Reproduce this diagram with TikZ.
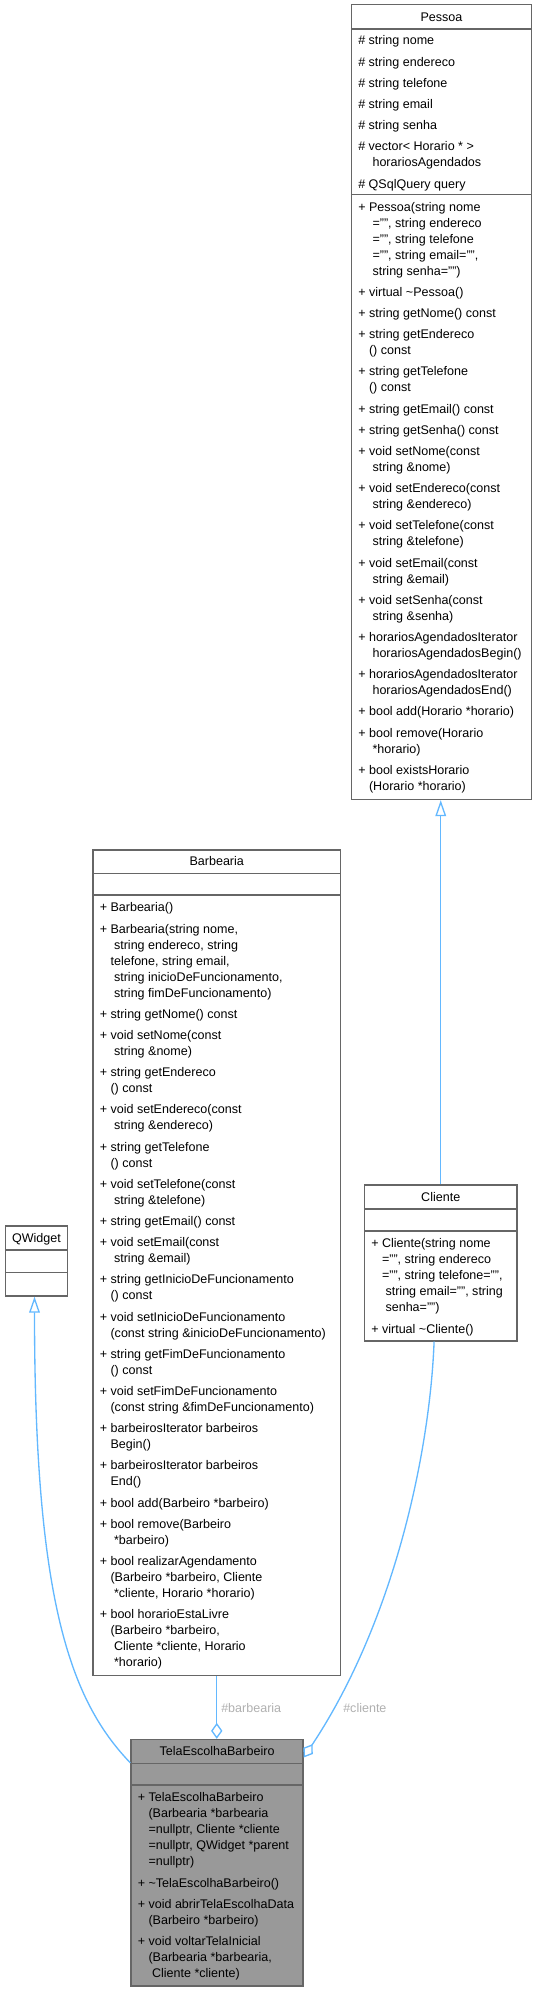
\documentclass[tikz,border=0pt]{standalone}
\usepackage{fontspec}
\setmainfont{Liberation Sans}
\usetikzlibrary{arrows.meta,fit}
\definecolor{edgeblue}{HTML}{63B8FF}
\definecolor{boxgray}{HTML}{666666}
\definecolor{focusfill}{HTML}{999999}
\definecolor{labelgray}{HTML}{B0B0B0}
\newcommand\fs{\fontsize{9.4pt}{12pt}\selectfont}
\newcommand\ci{\leavevmode\hphantom{+ }}
\newcommand\cx{\leavevmode\hphantom{+ }\ }
\tikzset{
  box/.style={draw=boxgray, line width=1pt, fill=white, inner sep=0pt},
  focus/.style={box, fill=focusfill},
  sep/.style={draw=boxgray, line width=1pt},
  txt/.style={anchor=north west, inner sep=0pt, align=left, font=\fs},
  hdr/.style={anchor=base, inner sep=0pt, font=\fs},
  lbl/.style={anchor=base west, inner sep=0pt, font=\fs, text=labelgray},
  link/.style={draw=edgeblue, line width=1pt},
  inh/.style={link, -{Triangle[open,length=12pt,width=8pt]}},
  agg/.style={link, -{Diamond[open,length=12pt,width=8.5pt]}},
}
\begin{document}
\begin{tikzpicture}[x=0.75pt, y=-0.75pt]
\useasboundingbox (0,0) rectangle (537,1991);

% ---------------- boxes ----------------
\node[box, fit={(351.5,4.5) (531.5,799.5)}] (pessoa) {};
\node[box, fit={(93,850) (340.5,1675.5)}] (barbearia) {};
\node[box, fit={(5.5,1226) (67.5,1296)}] (qwidget) {};
\node[box, fit={(364.5,1185) (517,1341)}] (cliente) {};
\node[focus, fit={(131,1739.5) (303,1986)}] (tela) {};

% separators
\draw[sep] (pessoa.west |- 0,29) -- (pessoa.east |- 0,29);
\draw[sep] (pessoa.west |- 0,194.3) -- (pessoa.east |- 0,194.3);
\draw[sep] (barbearia.west |- 0,873.5) -- (barbearia.east |- 0,873.5);
\draw[sep] (barbearia.west |- 0,895) -- (barbearia.east |- 0,895);
\draw[sep] (qwidget.west |- 0,1250) -- (qwidget.east |- 0,1250);
\draw[sep] (qwidget.west |- 0,1272.5) -- (qwidget.east |- 0,1272.5);
\draw[sep] (cliente.west |- 0,1209) -- (cliente.east |- 0,1209);
\draw[sep] (cliente.west |- 0,1231) -- (cliente.east |- 0,1231);
\draw[sep] (tela.west |- 0,1763.5) -- (tela.east |- 0,1763.5);
\draw[sep] (tela.west |- 0,1785) -- (tela.east |- 0,1785);

% headers
\node[hdr] (pessoaH) at (441.5,21.4) {Pessoa};
\node[hdr] (barbeariaH) at (216.75,865.9) {Barbearia};
\node[hdr] (qwidgetH) at (36.5,1242.4) {QWidget};
\node[hdr] (clienteH) at (440.75,1201.4) {Cliente};
\node[hdr] (telaH) at (217,1755.9) {TelaEscolhaBarbeiro};

% Pessoa attributes
\node[txt] (pessoaA) at (358,33.5) {\strut\# string nome\\[3.9pt]
\# string endereco\\[3.9pt]
\# string telefone\\[3.9pt]
\# string email\\[3.9pt]
\# string senha\\[3.9pt]
\# vector< Horario * >\\
\cx horariosAgendados\\[3.9pt]
\# QSqlQuery query};

% Pessoa methods
\node[txt] (pessoaM) at (358,199.7) {\strut+ Pessoa(string nome\\
\cx ="", string endereco\\
\cx ="", string telefone\\
\cx ="", string email="",\\
\cx string senha="")\\[3.9pt]
+ virtual \textasciitilde Pessoa()\\[3.9pt]
+ string getNome() const\\[3.9pt]
+ string getEndereco\\
\ci () const\\[3.9pt]
+ string getTelefone\\
\ci () const\\[3.9pt]
+ string getEmail() const\\[3.9pt]
+ string getSenha() const\\[3.9pt]
+ void setNome(const\\
\cx string \&nome)\\[3.9pt]
+ void setEndereco(const\\
\cx string \&endereco)\\[3.9pt]
+ void setTelefone(const\\
\cx string \&telefone)\\[3.9pt]
+ void setEmail(const\\
\cx string \&email)\\[3.9pt]
+ void setSenha(const\\
\cx string \&senha)\\[3.9pt]
+ horariosAgendadosIterator\\
\cx horariosAgendadosBegin()\\[3.9pt]
+ horariosAgendadosIterator\\
\cx horariosAgendadosEnd()\\[3.9pt]
+ bool add(Horario *horario)\\[3.9pt]
+ bool remove(Horario\\
\cx *horario)\\[3.9pt]
+ bool existsHorario\\
\ci (Horario *horario)};

% Barbearia methods
\node[txt] (barbeariaM) at (99.5,900.4) {\strut+ Barbearia()\\[3.9pt]
+ Barbearia(string nome,\\
\cx string endereco, string\\
\ci telefone, string email,\\
\cx string inicioDeFuncionamento,\\
\cx string fimDeFuncionamento)\\[3.9pt]
+ string getNome() const\\[3.9pt]
+ void setNome(const\\
\cx string \&nome)\\[3.9pt]
+ string getEndereco\\
\ci () const\\[3.9pt]
+ void setEndereco(const\\
\cx string \&endereco)\\[3.9pt]
+ string getTelefone\\
\ci () const\\[3.9pt]
+ void setTelefone(const\\
\cx string \&telefone)\\[3.9pt]
+ string getEmail() const\\[3.9pt]
+ void setEmail(const\\
\cx string \&email)\\[3.9pt]
+ string getInicioDeFuncionamento\\
\ci () const\\[3.9pt]
+ void setInicioDeFuncionamento\\
\ci (const string \&inicioDeFuncionamento)\\[3.9pt]
+ string getFimDeFuncionamento\\
\ci () const\\[3.9pt]
+ void setFimDeFuncionamento\\
\ci (const string \&fimDeFuncionamento)\\[3.9pt]
+ barbeirosIterator barbeiros\\
\ci Begin()\\[3.9pt]
+ barbeirosIterator barbeiros\\
\ci End()\\[3.9pt]
+ bool add(Barbeiro *barbeiro)\\[3.9pt]
+ bool remove(Barbeiro\\
\cx *barbeiro)\\[3.9pt]
+ bool realizarAgendamento\\
\ci (Barbeiro *barbeiro, Cliente\\
\cx *cliente, Horario *horario)\\[3.9pt]
+ bool horarioEstaLivre\\
\ci (Barbeiro *barbeiro,\\
\cx Cliente *cliente, Horario\\
\cx *horario)};

% Cliente methods
\node[txt] (clienteM) at (371,1236.4) {\strut+ Cliente(string nome\\
\ci ="", string endereco\\
\ci ="", string telefone="",\\
\cx string email="", string\\
\cx senha="")\\[3.9pt]
+ virtual \textasciitilde Cliente()};

% TelaEscolhaBarbeiro methods
\node[txt] (telaM) at (137.5,1790.4) {\strut+ TelaEscolhaBarbeiro\\
\ci (Barbearia *barbearia\\
\ci =nullptr, Cliente *cliente\\
\ci =nullptr, QWidget *parent\\
\ci =nullptr)\\[3.9pt]
+ \textasciitilde TelaEscolhaBarbeiro()\\[3.9pt]
+ void abrirTelaEscolhaData\\
\ci (Barbeiro *barbeiro)\\[3.9pt]
+ void voltarTelaInicial\\
\ci (Barbearia *barbearia,\\
\cx Cliente *cliente)};

% ---------------- connectors ----------------
\draw[inh] (cliente.north) -- (cliente.north |- pessoa.south);
\draw[link, {Triangle[open,length=12pt,width=8pt]}-] ([xshift=-1.5pt]qwidget.south)
  .. controls (34.5,1600) and (70,1700) .. ([yshift=-18pt]tela.north west);
\draw[agg] (barbearia.south) -- (barbearia.south |- tela.north);
\draw[agg] ([xshift=-5pt]cliente.south)
  .. controls (430,1450) and (395,1620) .. ([yshift=-14pt]tela.north east);

% edge labels
\node[lbl] (lblBarbearia) at (221,1712) {\#barbearia};
\node[lbl] (lblCliente) at (343,1712) {\#cliente};
\end{tikzpicture}
\end{document}
